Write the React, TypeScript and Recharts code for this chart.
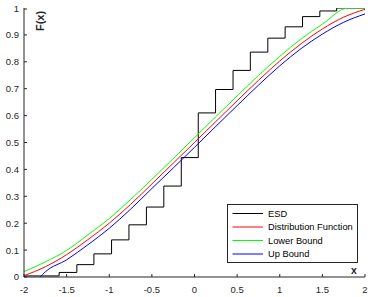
import React from 'react';
import { LineChart, Line, XAxis, YAxis, Legend, Label } from 'recharts';

const xTicks = [-2, -1.5, -1, -0.5, 0, 0.5, 1, 1.5, 2];
const yTicks = [0, 0.1, 0.2, 0.3, 0.4, 0.5, 0.6, 0.7, 0.8, 0.9, 1];

const seriesNames = ['ESD', 'Distribution Function', 'Lower Bound', 'Up Bound'];

// empirical step function (ESD)
const esdX = [-2, -1.588, -1.38, -1.18, -0.973, -0.769, -0.564, -0.36, -0.155, 0.044, 0.247, 0.452, 0.655, 0.86, 1.063, 1.267, 1.47, 1.668, 2];
const esdY = [0.004, 0.017, 0.046, 0.086, 0.138, 0.194, 0.26, 0.338, 0.444, 0.61, 0.697, 0.768, 0.836, 0.888, 0.93, 0.968, 0.989, 1, 1];

// distribution function
const distX = [-2, -1.75, -1.5, -1.25, -1, -0.75, -0.5, -0.25, 0, 0.25, 0.5, 0.75, 1, 1.25, 1.5, 1.75, 2];
const distY = [0.005, 0.038, 0.083, 0.139, 0.2, 0.27, 0.346, 0.423, 0.5, 0.578, 0.655, 0.731, 0.803, 0.867, 0.922, 0.966, 0.995];

// lower bound
const lowX = [-2, -1.75, -1.5, -1.25, -1, -0.75, -0.5, -0.25, 0, 0.25, 0.5, 0.75, 1, 1.25, 1.5, 1.8, 2];
const lowY = [0.02, 0.056, 0.099, 0.157, 0.217, 0.288, 0.363, 0.44, 0.518, 0.596, 0.673, 0.749, 0.82, 0.885, 0.94, 1, 1];

// up bound
const upX = [-1.81, -1.75, -1.5, -1.25, -1, -0.75, -0.5, -0.25, 0, 0.25, 0.5, 0.75, 1, 1.25, 1.5, 1.75, 2];
const upY = [0, 0.019, 0.064, 0.12, 0.181, 0.252, 0.329, 0.405, 0.482, 0.56, 0.637, 0.713, 0.785, 0.849, 0.903, 0.947, 0.978];

const toRows = (xs: number[], ys: number[]) => xs.map((x, i) => ({ x, y: ys[i] }));

const axisColor = '#262626';
const font = '"Liberation Sans", Arial, Helvetica, sans-serif';

const XTick = (props: any) => {
  const { x, y, payload } = props;
  return (
    <g>
      <line x1={x} x2={x} y1={y} y2={y - 3} stroke={axisColor} />
      <text x={x} y={y + 16} textAnchor="middle" fontSize={9.5} fontFamily={font} fill={axisColor}>
        {payload.value}
      </text>
    </g>
  );
};

const YTick = (props: any) => {
  const { x, y, payload } = props;
  return (
    <g>
      <line x1={x} x2={x + 3} y1={y} y2={y} stroke={axisColor} />
      <text x={x - 5} y={y + 3.4} textAnchor="end" fontSize={9.5} fontFamily={font} fill={axisColor}>
        {payload.value}
      </text>
    </g>
  );
};

const LegendBox = (props: any) => {
  const items = [...(props.payload || [])].sort(
    (a: any, b: any) => seriesNames.indexOf(a.value) - seriesNames.indexOf(b.value)
  );
  return (
    <svg width={131} height={59} style={{ display: 'block' }}>
      <rect x={0.5} y={0.5} width={130} height={58} fill="#ffffff" stroke={axisColor} />
      {items.map((entry: any, i: number) => {
        const cy = 9.5 + i * 13.5;
        return (
          <g key={entry.value}>
            <line x1={5.5} x2={36} y1={cy} y2={cy} stroke={entry.color} />
            <text x={41} y={cy + 3.3} fontSize={9.3} fontFamily={font} fill="#000000">
              {entry.value}
            </text>
          </g>
        );
      })}
    </svg>
  );
};

export default function App() {
  return (
    <div style={{ position: 'absolute', left: 0, top: 0, width: 373, height: 297, background: '#ffffff' }}>
      <LineChart width={373} height={297} margin={{ top: 8, right: 8, left: 0, bottom: 0 }}>
        <XAxis
          dataKey="x"
          type="number"
          domain={[-2, 2]}
          ticks={xTicks}
          allowDataOverflow
          height={20}
          tickSize={0}
          tickMargin={0}
          tickLine={false}
          tick={<XTick />}
          axisLine={{ stroke: axisColor }}
        >
          <Label
            content={({ viewBox }: any) => (
              <text
                x={viewBox.x + viewBox.width - 11}
                y={viewBox.y - 3}
                textAnchor="middle"
                fontSize={10.5}
                fontWeight="bold"
                fontFamily={font}
                fill={axisColor}
              >
                x
              </text>
            )}
          />
        </XAxis>
        <XAxis
          xAxisId="top"
          orientation="top"
          mirror
          type="number"
          dataKey="x"
          domain={[-2, 2]}
          ticks={xTicks}
          height={0}
          tick={false}
          tickSize={3}
          tickLine={{ stroke: axisColor }}
          axisLine={{ stroke: axisColor }}
        />
        <YAxis
          type="number"
          domain={[0, 1]}
          ticks={yTicks}
          allowDataOverflow
          width={24}
          tickSize={0}
          tickMargin={0}
          tickLine={false}
          tick={<YTick />}
          axisLine={{ stroke: axisColor }}
        >
          <Label
            content={({ viewBox }: any) => {
              const cx = viewBox.x + viewBox.width + 15.5;
              const cy = viewBox.y + 13;
              return (
                <text
                  x={cx}
                  y={cy}
                  transform={`rotate(-90, ${cx}, ${cy})`}
                  textAnchor="middle"
                  dominantBaseline="central"
                  fontSize={11}
                  fontWeight="bold"
                  fontFamily={font}
                  fill={axisColor}
                >
                  F(x)
                </text>
              );
            }}
          />
        </YAxis>
        <YAxis
          yAxisId="right"
          orientation="right"
          mirror
          type="number"
          domain={[0, 1]}
          ticks={yTicks}
          width={0}
          tick={false}
          tickSize={3}
          tickLine={{ stroke: axisColor }}
          axisLine={{ stroke: axisColor }}
        />
        <Legend
          layout="vertical"
          align="center"
          verticalAlign="middle"
          content={<LegendBox />}
          wrapperStyle={{ left: 227, top: 204, width: 131, height: 59 }}
        />
        <Line
          data={toRows(esdX, esdY)}
          dataKey="y"
          name={seriesNames[0]}
          type="stepAfter"
          stroke="#000000"
          strokeWidth={1}
          dot={false}
          activeDot={false}
          isAnimationActive={false}
        />
        <Line
          data={toRows(distX, distY)}
          dataKey="y"
          name={seriesNames[1]}
          type="monotone"
          stroke="#ff0000"
          strokeWidth={1}
          dot={false}
          activeDot={false}
          isAnimationActive={false}
        />
        <Line
          data={toRows(lowX, lowY)}
          dataKey="y"
          name={seriesNames[2]}
          type="monotone"
          stroke="#00ff00"
          strokeWidth={1}
          dot={false}
          activeDot={false}
          isAnimationActive={false}
        />
        <Line
          data={toRows(upX, upY)}
          dataKey="y"
          name={seriesNames[3]}
          type="monotone"
          stroke="#0000ff"
          strokeWidth={1}
          dot={false}
          activeDot={false}
          isAnimationActive={false}
        />
      </LineChart>
    </div>
  );
}
